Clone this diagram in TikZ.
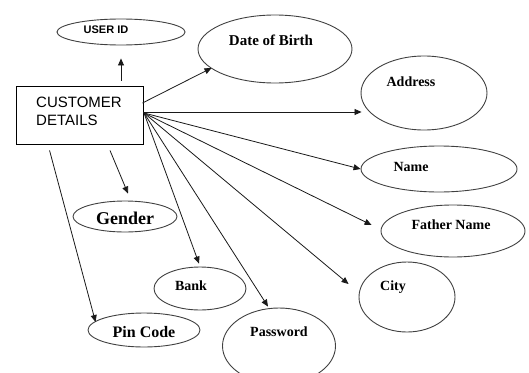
\documentclass[tikz,border=0pt]{standalone}
\usepackage{fontspec}
\setmainfont{Liberation Serif}
\setsansfont{Liberation Sans}
\usetikzlibrary{shapes.geometric,arrows.meta,calc}
\begin{document}
\begin{tikzpicture}[x=1pt,y=-1pt,
  attr/.style={draw=black!75,line width=0.9pt,ellipse,inner sep=0pt},
  lbl/.style={font=\bfseries\fontsize{14}{16}\selectfont,inner sep=0pt},
  arr/.style={draw=black!90,line width=0.8pt,-{Triangle[length=7pt,width=6pt]}},
  cbox/.style={draw=black,line width=0.9pt,rectangle,minimum width=127pt,minimum height=58pt,inner sep=0pt}]
\useasboundingbox (0,0) rectangle (529,372);
\clip (0,0) rectangle (529,372);
% main entity
\node[cbox] (cust) at (79.5,115) {};
\node[font=\sffamily\fontsize{15}{18}\selectfont,align=left,anchor=west,inner sep=0pt] (custt) at (36,111) {CUSTOMER\\DETAILS};
\coordinate (fan) at (144,113);
% attributes
\node[attr,minimum width=128pt,minimum height=26pt] (uid) at (121,32) {};
\node[font=\sffamily\bfseries\fontsize{11}{13}\selectfont,inner sep=0pt] (uidt) at (106,30) {USER ID};
\node[attr,minimum width=154pt,minimum height=68pt] (dob) at (275,49) {};
\node[lbl,font=\bfseries\fontsize{15}{17}\selectfont] (dobt) at (271,40) {Date of Birth};
\node[attr,minimum width=126pt,minimum height=74pt] (addr) at (424,93) {};
\node[lbl] (addrt) at (411,82) {Address};
\node[attr,minimum width=156pt,minimum height=46pt] (name) at (439,169) {};
\node[lbl] (namet) at (411,167) {Name};
\node[attr,minimum width=144pt,minimum height=52pt] (father) at (453,231) {};
\node[lbl] (fathert) at (451,225) {Father Name};
\node[attr,minimum width=96pt,minimum height=70pt] (city) at (407,297) {};
\node[lbl] (cityt) at (393,287) {City};
\node[attr,minimum width=113pt,minimum height=76pt] (pass) at (279,346) {};
\node[lbl] (passt) at (279,332) {Password};
\node[attr,minimum width=92pt,minimum height=43pt] (bank) at (200,288.5) {};
\node[lbl] (bankt) at (191,286) {Bank};
\node[attr,minimum width=104pt,minimum height=31pt] (gender) at (125,216.5) {};
\node[lbl,font=\bfseries\fontsize{18}{20}\selectfont] (gendert) at (125,218) {Gender};
\node[attr,minimum width=112pt,minimum height=34pt] (pin) at (144,330) {};
\node[lbl,font=\bfseries\fontsize{16}{18}\selectfont] (pint) at (144,332) {Pin Code};
% connectors
\draw[arr] ($(cust.north)+(41.5,-5)$) -- ($(uid.south)+(0,13)$);
\draw[arr] ($(cust.east)+(-1,-12)$) -- ($(dob.west)+(14,19)$);
\draw[arr] ($(cust.east)+(0,-3)$) -- ($(addr.west)+(1,19)$);
\draw[arr] (fan) -- (name.west);
\draw[arr] (fan) -- ($(father.west)+(-9,-6)$);
\draw[arr] (fan) -- ($(city.west)+(-10,-13)$);
\draw[arr] (fan) -- ($(pass.north)+(-11,-1)$);
\draw[arr] (fan) -- ($(bank.north)+(-1,-3)$);
\draw[arr] ($(cust.south)+(30.5,6)$) -- ($(gender.north)+(3,-7)$);
\draw[arr] ($(cust.south west)+(34,6)$) -- ($(pin.west)+(8,-8)$);
\end{tikzpicture}
\end{document}
